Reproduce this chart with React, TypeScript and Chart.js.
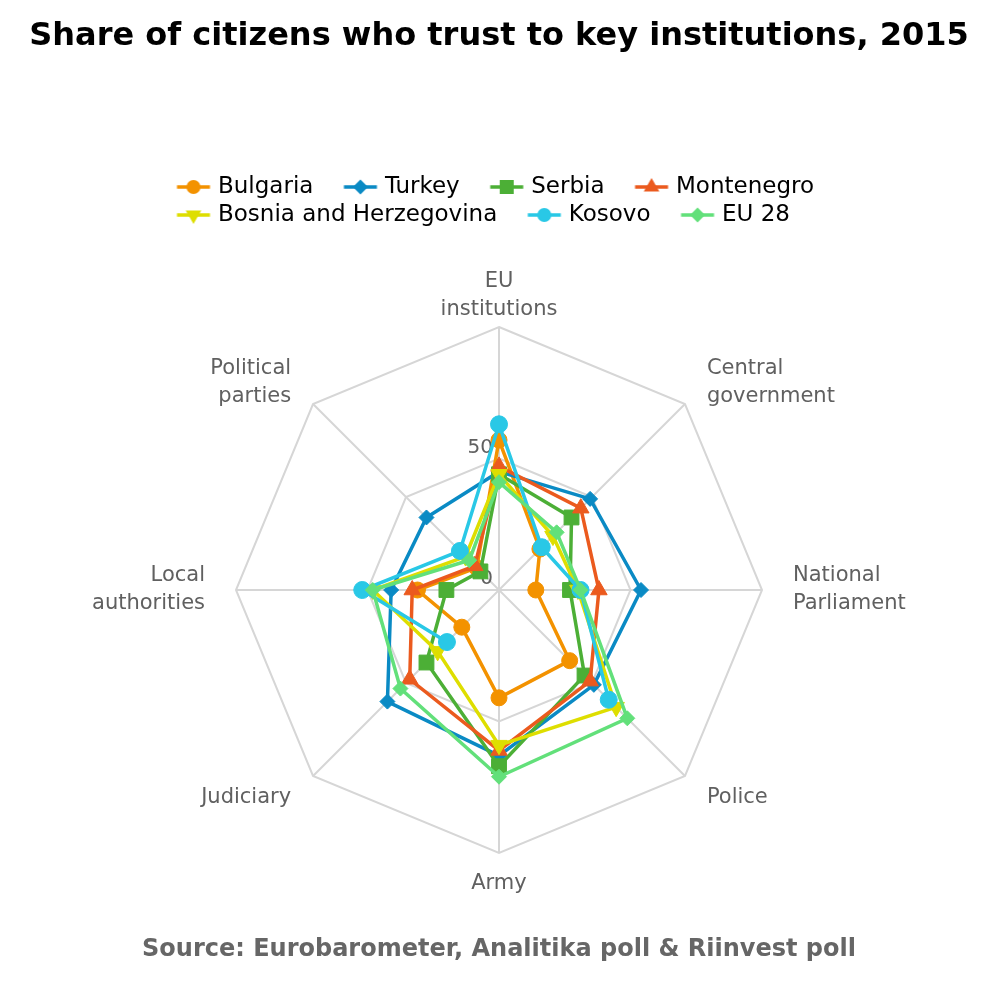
import React, { useEffect, useRef } from 'react';
import { Chart, registerables } from 'chart.js';

Chart.register(...registerables);

// ---------- data ----------
const TITLE = 'Share of citizens who trust to key institutions, 2015';
const SOURCE = 'Source: Eurobarometer, Analitika poll & Riinvest poll';

const CATEGORIES: string[][] = [
  ['EU', 'institutions'],
  ['Central', 'government'],
  ['National', 'Parliament'],
  ['Police'],
  ['Army'],
  ['Judiciary'],
  ['Local', 'authorities'],
  ['Political', 'parties'],
];

const SERIES_NAMES = ['Bulgaria', 'Turkey', 'Serbia', 'Montenegro', 'Bosnia and Herzegovina', 'Kosovo', 'EU 28'];

const BULGARIA = [57, 22, 14, 38, 41, 20, 31, 12];
const TURKEY = [45, 49, 54, 51, 63, 60, 41, 39];
const SERBIA = [44, 39, 27, 46, 67, 39, 20, 10];
const MONTENEGRO = [47, 44, 38, 49, 61, 48, 33, 13];
const BOSNIA = [44, 29, 30, 63, 59, 33, 48, 18];
const KOSOVO = [63, 23, 31, 59, null, 28, 52, 21];
const EU28 = [41, 31, 31, 69, 71, 53, 48, 16];

const SERIES_VALUES = [BULGARIA, TURKEY, SERBIA, MONTENEGRO, BOSNIA, KOSOVO, EU28];

const AXIS_MIN = 0;
const AXIS_MAX = 100;
const AXIS_STEP = 50;

// ---------- styles ----------
const FONT = "'DejaVu Sans', sans-serif";
const GRID_COLOR = '#d6d6d6';
const LABEL_COLOR = '#606060';

type Shape = 'circle' | 'rect' | 'rectRot' | 'triangle';
interface SeriesStyle { color: string; shape: Shape; radius: number; rotation: number; }

const STYLES: SeriesStyle[] = [
  { color: '#F39200', shape: 'circle', radius: 8, rotation: 0 },
  { color: '#0A8AC4', shape: 'rectRot', radius: 7.5, rotation: 0 },
  { color: '#4CAF36', shape: 'rect', radius: 10.5, rotation: 0 },
  { color: '#EB5A1E', shape: 'triangle', radius: 9.5, rotation: 0 },
  { color: '#DEDE00', shape: 'triangle', radius: 9.5, rotation: 180 },
  { color: '#29C8E6', shape: 'circle', radius: 8.5, rotation: 0 },
  { color: '#62E07A', shape: 'rectRot', radius: 7.5, rotation: 0 },
];

const LEGEND_BOX_W = 55;
const LEGEND_LEFT = 146.5;
const ICON_W = 75;
const ICON_H = 24;

function makeIcon(s: SeriesStyle): HTMLCanvasElement {
  const c = document.createElement('canvas');
  c.width = ICON_W;
  c.height = ICON_H;
  const g = c.getContext('2d')!;
  const cx = LEGEND_BOX_W / 2 - 13 + ICON_W / 2;
  const cy = ICON_H / 2;
  g.strokeStyle = s.color;
  g.fillStyle = s.color;
  g.lineWidth = 3.5;
  g.beginPath();
  g.moveTo(cx - 16.5, cy);
  g.lineTo(cx + 16.5, cy);
  g.stroke();
  g.beginPath();
  if (s.shape === 'circle') {
    g.arc(cx, cy, 7, 0, Math.PI * 2);
  } else if (s.shape === 'rect') {
    g.rect(cx - 7, cy - 7, 14, 14);
  } else if (s.shape === 'rectRot') {
    g.moveTo(cx, cy - 7.5);
    g.lineTo(cx + 7.5, cy);
    g.lineTo(cx, cy + 7.5);
    g.lineTo(cx - 7.5, cy);
    g.closePath();
  } else {
    const r = 9;
    const dir = s.rotation === 180 ? -1 : 1;
    g.moveTo(cx, cy - dir * r);
    g.lineTo(cx + r * 0.866, cy + dir * r * 0.5);
    g.lineTo(cx - r * 0.866, cy + dir * r * 0.5);
    g.closePath();
  }
  g.fill();
  return c;
}

// legend: extra space below the legend rows, rows start at a common left edge
const LEGEND_BLOCK_HEIGHT = 156.5;
const legendLayoutPlugin = {
  id: 'legendLayout',
  beforeInit(chart: any) {
    const legend = chart.legend;
    if (!legend) return;
    const originalFit = legend.fit;
    legend.fit = function fit() {
      originalFit.bind(legend)();
      this.height = LEGEND_BLOCK_HEIGHT;
    };
  },
  afterLayout(chart: any) {
    if (chart.legend) chart.legend.left = LEGEND_LEFT;
  },
};

// axis labels (category names + ring values) drawn at the scale's own positions
const axisLabelPlugin = {
  id: 'axisLabels',
  beforeDatasetsDraw(chart: any) {
    const scale = chart.scales.r;
    const ctx = chart.ctx as CanvasRenderingContext2D;
    ctx.save();
    ctx.fillStyle = LABEL_COLOR;
    ctx.textBaseline = 'middle';
    ctx.textAlign = 'right';
    ctx.font = `20px ${FONT}`;
    scale.ticks.forEach((t: any) => {
      if (t.value >= scale.max) return;
      const d = scale.getDistanceFromCenterForValue(t.value);
      ctx.fillText(String(t.label), scale.xCenter - 6, scale.yCenter - d - 11);
    });
    ctx.font = `21px ${FONT}`;
    (chart.data.labels as string[][]).forEach((lines, i) => {
      const p = scale.getPointPosition(i, scale.drawingArea + 31);
      const dx = p.x - scale.xCenter;
      ctx.textAlign = Math.abs(dx) < 1 ? 'center' : dx > 0 ? 'left' : 'right';
      const n = lines.length;
      lines.forEach((line, k) => {
        ctx.fillText(line, p.x, p.y + (k - (n - 1) / 2) * 28);
      });
    });
    ctx.restore();
  },
};

export default function App() {
  const ref = useRef<HTMLCanvasElement>(null);

  useEffect(() => {
    document.body.style.margin = '0';
    const canvas = ref.current;
    if (!canvas) return;
    Chart.defaults.font.family = FONT;
    const icons = STYLES.map(makeIcon);
    const n = SERIES_NAMES.length;

    const chart = new Chart(canvas, {
      type: 'radar',
      data: {
        labels: CATEGORIES as any,
        datasets: SERIES_NAMES.map((name, i) => {
          const s = STYLES[i];
          return {
            label: name,
            data: SERIES_VALUES[i] as any,
            borderColor: s.color,
            backgroundColor: s.color,
            borderWidth: 3.5,
            fill: false,
            tension: 0,
            spanGaps: false,
            pointStyle: s.shape,
            pointRadius: s.radius,
            pointRotation: s.rotation,
            pointBackgroundColor: s.color,
            pointBorderColor: s.color,
            pointBorderWidth: 1,
            order: n - i,
          } as any;
        }),
      },
      options: {
        responsive: false,
        animation: false,
        events: [],
        layout: { padding: { left: 0, right: 2, top: 0, bottom: 0 } },
        scales: {
          r: {
            min: AXIS_MIN,
            max: AXIS_MAX,
            ticks: { display: false, stepSize: AXIS_STEP },
            grid: { color: GRID_COLOR, lineWidth: 2 },
            angleLines: { color: GRID_COLOR, lineWidth: 2 },
            pointLabels: { display: false },
          },
        },
        plugins: {
          title: {
            display: true,
            text: TITLE,
            color: '#000',
            font: { family: FONT, size: 32, weight: 'bold', lineHeight: '38px' as any },
            padding: { top: 18, bottom: 114.5 },
          },
          legend: {
            display: true,
            position: 'top',
            align: 'start',
            labels: {
              color: '#000',
              font: { family: FONT, size: 23 },
              usePointStyle: true,
              pointStyleWidth: LEGEND_BOX_W,
              padding: 5,
              generateLabels(ch: any) {
                const items = (Chart.defaults.plugins.legend.labels as any).generateLabels(ch);
                return items.map((it: any) => ({ ...it, pointStyle: icons[it.datasetIndex], rotation: 0 }));
              },
              sort: (a: any, b: any) => a.datasetIndex - b.datasetIndex,
            },
          },
          subtitle: {
            display: true,
            position: 'bottom',
            text: SOURCE,
            color: '#666666',
            font: { family: FONT, size: 24, weight: 'bold', lineHeight: '26px' as any },
            padding: { top: 84, bottom: 37 },
          },
          tooltip: { enabled: false },
        },
      },
      plugins: [legendLayoutPlugin, axisLabelPlugin],
    });

    return () => chart.destroy();
  }, []);

  return (
    <div style={{ width: 1000, height: 1000 }}>
      <canvas ref={ref} width={1000} height={1000} style={{ display: 'block', width: 1000, height: 1000 }} />
    </div>
  );
}
